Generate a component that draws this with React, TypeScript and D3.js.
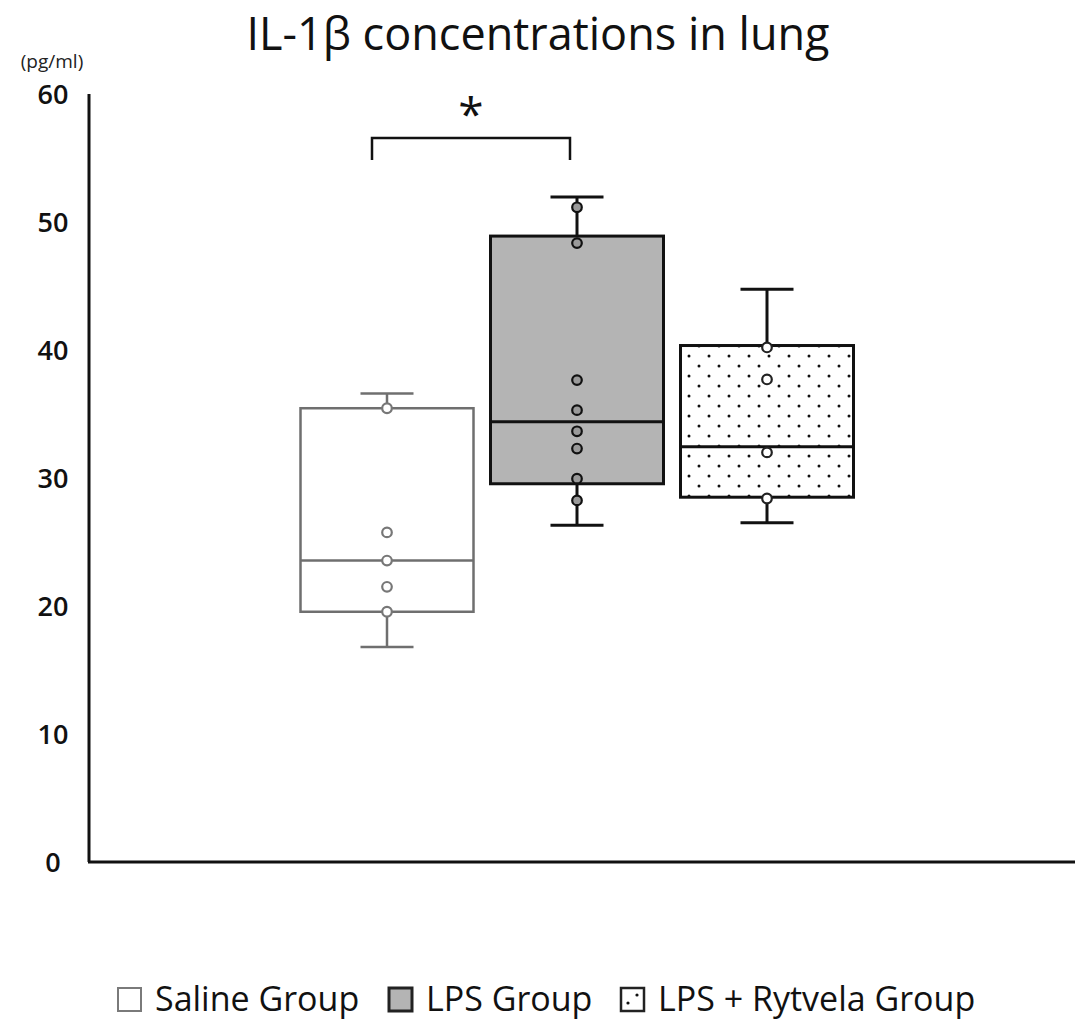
import React from "react";
import * as d3 from "d3";

const categories = ["Saline Group", "LPS Group", "LPS + Rytvela Group"];
const whiskerMin = [16.8, 26.3, 26.5];
const q1Values = [19.55, 29.55, 28.5];
const medians = [23.55, 34.4, 32.45];
const q3Values = [35.45, 48.9, 40.35];
const whiskerMax = [36.6, 51.95, 44.75];
const salinePoints = [35.45, 25.75, 23.55, 21.5, 19.55];
const lpsPoints = [51.15, 48.35, 37.65, 35.3, 33.65, 32.3, 29.95, 28.25];
const rytvelaPoints = [40.2, 37.7, 32.0, 28.4];
const yTicks = [0, 10, 20, 30, 40, 50, 60];

const W = 1078, H = 1020;
const FONT = "'Open Sans', 'Noto Sans', sans-serif";

export default function App() {
  const y = d3.scaleLinear().domain([0, 60]).range([862, 94]);
  const x = d3.scalePoint<string>().domain(categories).range([387, 767]);
  const boxW = 173;
  const capW = 53;
  const points = [salinePoints, lpsPoints, rytvelaPoints];
  const styles = [
    { stroke: "#6f6f6f", fill: "#ffffff", sw: 2.5, ptFill: "#ffffff", ptStroke: "#777" },
    { stroke: "#111", fill: "#b4b4b4", sw: 3, ptFill: "#9a9a9a", ptStroke: "#111" },
    { stroke: "#111", fill: "url(#dots)", sw: 3, ptFill: "#ffffff", ptStroke: "#222" },
  ];
  const legendItems = [
    { label: categories[0], x: 117, fill: "#fff", stroke: "#7a7a7a", sw: 2, dots: false },
    { label: categories[1], x: 388, fill: "#b4b4b4", stroke: "#222", sw: 3, dots: false },
    { label: categories[2], x: 620, fill: "#fff", stroke: "#222", sw: 2.5, dots: true },
  ];
  const bx1 = (x(categories[0]) as number) - 15;
  const bx2 = (x(categories[1]) as number) - 7;
  return (
    <svg width={W} height={H} style={{ position: "absolute", left: 0, top: 0, background: "#fff" }}>
      <defs>
        <pattern id="dots" width="20" height="20" patternUnits="userSpaceOnUse" x="685" y="352">
          <rect width="20" height="20" fill="#fff" />
          <circle cx="4" cy="4" r="1.5" fill="#111" />
          <circle cx="14" cy="14" r="1.5" fill="#111" />
        </pattern>
      </defs>
      <text x={538} y={50} textAnchor="middle" fontFamily={FONT} fontSize={45} fill="#111">
        IL-1β concentrations in lung
      </text>
      <text x={52} y={68} textAnchor="middle" fontFamily={FONT} fontSize={19} fill="#222">
        (pg/ml)
      </text>
      {yTicks.map((t) => (
        <text key={t} x={53} y={y(t)} dy="0.36em" textAnchor="middle" fontFamily={FONT} fontSize={27} fontWeight={600} fill="#111">
          {t}
        </text>
      ))}
      <line x1={89} x2={89} y1={y(60)} y2={y(0)} stroke="#111" strokeWidth={3} />
      <line x1={88} x2={1075} y1={y(0)} y2={y(0)} stroke="#111" strokeWidth={3} />
      {categories.map((c, i) => {
        const cx = x(c) as number;
        const s = styles[i];
        return (
          <g key={c}>
            <line x1={cx} x2={cx} y1={y(q3Values[i])} y2={y(whiskerMax[i])} stroke={s.stroke} strokeWidth={s.sw} />
            <line x1={cx} x2={cx} y1={y(q1Values[i])} y2={y(whiskerMin[i])} stroke={s.stroke} strokeWidth={s.sw} />
            <line x1={cx - capW / 2} x2={cx + capW / 2} y1={y(whiskerMax[i])} y2={y(whiskerMax[i])} stroke={s.stroke} strokeWidth={s.sw} />
            <line x1={cx - capW / 2} x2={cx + capW / 2} y1={y(whiskerMin[i])} y2={y(whiskerMin[i])} stroke={s.stroke} strokeWidth={s.sw} />
            <rect x={cx - boxW / 2} y={y(q3Values[i])} width={boxW} height={y(q1Values[i]) - y(q3Values[i])} fill={s.fill} stroke={s.stroke} strokeWidth={s.sw} />
            <line x1={cx - boxW / 2} x2={cx + boxW / 2} y1={y(medians[i])} y2={y(medians[i])} stroke={s.stroke} strokeWidth={s.sw} />
            {points[i].map((v, j) => (
              <circle key={j} cx={cx} cy={y(v)} r={4.8} fill={s.ptFill} stroke={s.ptStroke} strokeWidth={2.2} />
            ))}
          </g>
        );
      })}
      <path d={`M${bx1},160 V138 H${bx2} V160`} fill="none" stroke="#111" strokeWidth={2.5} />
      <text x={(bx1 + bx2) / 2} y={131} textAnchor="middle" fontFamily={FONT} fontSize={46} fill="#111">*</text>
      {legendItems.map((l) => (
        <g key={l.label}>
          <rect x={l.x + 1} y={988} width={23} height={23} fill={l.fill} stroke={l.stroke} strokeWidth={l.sw} />
          {l.dots && <circle cx={l.x + 8} cy={1003} r={1.6} fill="#111" />}
          {l.dots && <circle cx={l.x + 17} cy={995} r={1.6} fill="#111" />}
          <text x={l.x + 38} y={1011} fontFamily={FONT} fontSize={34} fill="#111">{l.label}</text>
        </g>
      ))}
    </svg>
  );
}
